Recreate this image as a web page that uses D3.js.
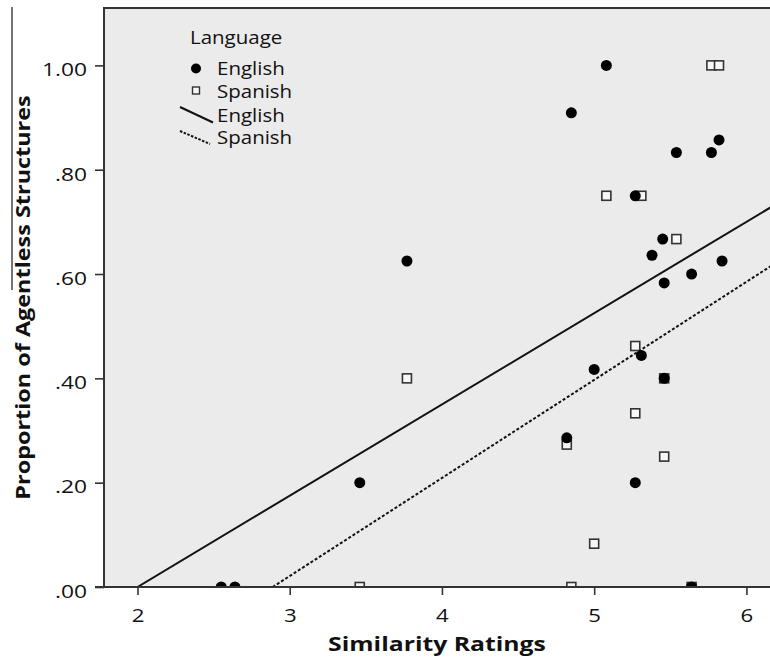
<!DOCTYPE html>
<html>
<head>
<meta charset="utf-8">
<script src="https://cdn.jsdelivr.net/npm/d3@7"></script>
<style>
  html, body { margin: 0; padding: 0; background: #ffffff; }
  svg text { font-family: "Open Sans", "Noto Sans", sans-serif; fill: #111; }
</style>
</head>
<body>
<svg id="chart" width="770" height="659"></svg>
<script>
// ---- data ----
const englishX = [2.55, 2.64, 3.46, 3.77, 4.82, 4.85, 5.00, 5.08, 5.27, 5.27, 5.31, 5.38, 5.45, 5.46, 5.46, 5.54, 5.64, 5.64, 5.77, 5.82, 5.84];
const englishY = [0.000, 0.000, 0.200, 0.625, 0.286, 0.909, 0.417, 1.000, 0.750, 0.200, 0.444, 0.636, 0.667, 0.583, 0.400, 0.833, 0.600, 0.000, 0.833, 0.857, 0.625];
const spanishX = [3.46, 3.77, 4.82, 4.85, 5.00, 5.08, 5.31, 5.27, 5.27, 5.46, 5.46, 5.54, 5.64, 5.77, 5.82];
const spanishY = [0.000, 0.400, 0.273, 0.000, 0.083, 0.750, 0.750, 0.462, 0.333, 0.250, 0.400, 0.667, 0.000, 1.000, 1.000];
// fit lines: y = intercept + slope * x
const fitNames = ["English", "Spanish"];
const fitIntercept = [-0.350, -0.543];
const fitSlope = [0.175, 0.188];
const xTicks = [2, 3, 4, 5, 6];
const yTicks = [0, 0.2, 0.4, 0.6, 0.8, 1.0];
const yTickLabels = [".00", ".20", ".40", ".60", ".80", "1.00"];
const legendTitle = "Language";
const xTitle = "Similarity Ratings";
const yTitle = "Proportion of Agentless Structures";

// ---- layout ----
const L = 104, R = 772, T = 8, B = 587;
const svg = d3.select("#chart");
const x = d3.scaleLinear().domain([1.78, 6.155]).range([L, 770]);
const y = d3.scaleLinear().domain([0, 1.11]).range([B, T]);
const xMax = x.invert(R);

// widen text horizontally (the reference typeface is broad)
function stretch(sel, f) {
  sel.each(function () {
    const w = this.getComputedTextLength();
    d3.select(this).attr("textLength", w * f).attr("lengthAdjust", "spacingAndGlyphs");
  });
}

// background
svg.append("rect").attr("x", L).attr("y", T).attr("width", R - L).attr("height", B - T)
  .attr("fill", "#ebebeb");

svg.append("defs").append("clipPath").attr("id", "plotclip")
  .append("rect").attr("x", L).attr("y", T).attr("width", R - L).attr("height", B - T);

// frame: left and top
svg.append("line").attr("x1", L).attr("x2", L).attr("y1", T - 1).attr("y2", B)
  .attr("stroke", "#333").attr("stroke-width", 2);
svg.append("line").attr("x1", L).attr("x2", R).attr("y1", T).attr("y2", T)
  .attr("stroke", "#333").attr("stroke-width", 2);

// stray figure border at far left
svg.append("line").attr("x1", 12).attr("x2", 12).attr("y1", 7).attr("y2", 290)
  .attr("stroke", "#444").attr("stroke-width", 1.5);

// regression lines
const plot = svg.append("g").attr("clip-path", "url(#plotclip)");
fitNames.forEach((n, i) => {
  const x0 = -fitIntercept[i] / fitSlope[i];
  const pts = [x0, xMax].map(v => [x(v), y(fitIntercept[i] + fitSlope[i] * v)]);
  plot.append("path").attr("d", d3.line()(pts)).attr("fill", "none")
    .attr("stroke", "#111").attr("stroke-width", 2)
    .attr("stroke-dasharray", i === 1 ? "3,2" : null);
});

// spanish squares
const sq = 9;
plot.selectAll("rect.sp").data(spanishX).join("rect").attr("class", "sp")
  .attr("x", (d) => x(d) - sq / 2)
  .attr("y", (d, i) => y(spanishY[i]) - sq / 2)
  .attr("width", sq).attr("height", sq)
  .attr("fill", "#f7f7f7").attr("stroke", "#333").attr("stroke-width", 1.6);

// english circles
plot.selectAll("circle.en").data(englishX).join("circle").attr("class", "en")
  .attr("cx", d => x(d)).attr("cy", (d, i) => y(englishY[i])).attr("r", 5.5)
  .attr("fill", "#000");

// x axis
const xAxis = d3.axisBottom(x).tickValues(xTicks).tickFormat(d3.format("d")).tickSize(8).tickSizeOuter(0);
const gx = svg.append("g").attr("transform", `translate(0,${B})`).call(xAxis);
gx.select(".domain").remove();
gx.append("line").attr("x1", 95).attr("x2", R).attr("y1", 0).attr("y2", 0)
  .attr("stroke", "#333").attr("stroke-width", 2);
gx.selectAll(".tick line").attr("stroke", "#333").attr("stroke-width", 1.6);
gx.selectAll(".tick text").attr("font-size", 18.5)
  .attr("dy", 0).attr("y", 35).attr("fill", "#111");

// y axis
const yAxis = d3.axisLeft(y).tickValues(yTicks).tickFormat((d, i) => yTickLabels[i]).tickSize(9).tickSizeOuter(0);
const gy = svg.append("g").attr("transform", `translate(${L},0)`).call(yAxis);
gy.select(".domain").remove();
gy.selectAll(".tick line").attr("stroke", "#333").attr("stroke-width", 1.6);
gy.selectAll(".tick text").attr("font-size", 17.5)
  .attr("x", -17).attr("dy", 10.3).attr("fill", "#111");
gy.selectAll("text").attr("font-family", null);
gx.selectAll("text").attr("font-family", null);
stretch(gy.selectAll(".tick text"), 1.3);
stretch(gx.selectAll(".tick text"), 1.2);

// titles
const xt = svg.append("text").attr("x", (L + 770) / 2).attr("y", 651).attr("text-anchor", "middle")
  .attr("font-size", 19.5).attr("font-weight", "bold").text(xTitle);
stretch(xt, 1.27);
const yt = svg.append("text").attr("transform", `translate(30,${(T + B) / 2}) rotate(-90)`)
  .attr("text-anchor", "middle").attr("font-size", 19.5).attr("font-weight", "bold").text(yTitle);
stretch(yt, 1.2);

// legend
const lg = svg.append("g");
const lt = [];
lt.push(lg.append("text").attr("x", 190).attr("y", 44).attr("font-size", 17.5).text(legendTitle));
lg.append("circle").attr("cx", 196).attr("cy", 68.5).attr("r", 5).attr("fill", "#000");
lt.push(lg.append("text").attr("x", 217).attr("y", 75).attr("font-size", 17.5).text(fitNames[0]));
lg.append("rect").attr("x", 192.5).attr("y", 87).attr("width", 7).attr("height", 7)
  .attr("fill", "#f7f7f7").attr("stroke", "#333").attr("stroke-width", 1.4);
lt.push(lg.append("text").attr("x", 217).attr("y", 98).attr("font-size", 17.5).text(fitNames[1]));
lg.append("line").attr("x1", 180).attr("y1", 107).attr("x2", 213).attr("y2", 122.5)
  .attr("stroke", "#111").attr("stroke-width", 2);
lt.push(lg.append("text").attr("x", 217).attr("y", 122).attr("font-size", 17.5).text(fitNames[0]));
lg.append("line").attr("x1", 180).attr("y1", 131).attr("x2", 210).attr("y2", 144)
  .attr("stroke", "#111").attr("stroke-width", 2).attr("stroke-dasharray", "2.5,1.5");
lt.push(lg.append("text").attr("x", 217).attr("y", 144).attr("font-size", 17.5).text(fitNames[1]));
lt.forEach(t => stretch(t, 1.17));
</script>
</body>
</html>
